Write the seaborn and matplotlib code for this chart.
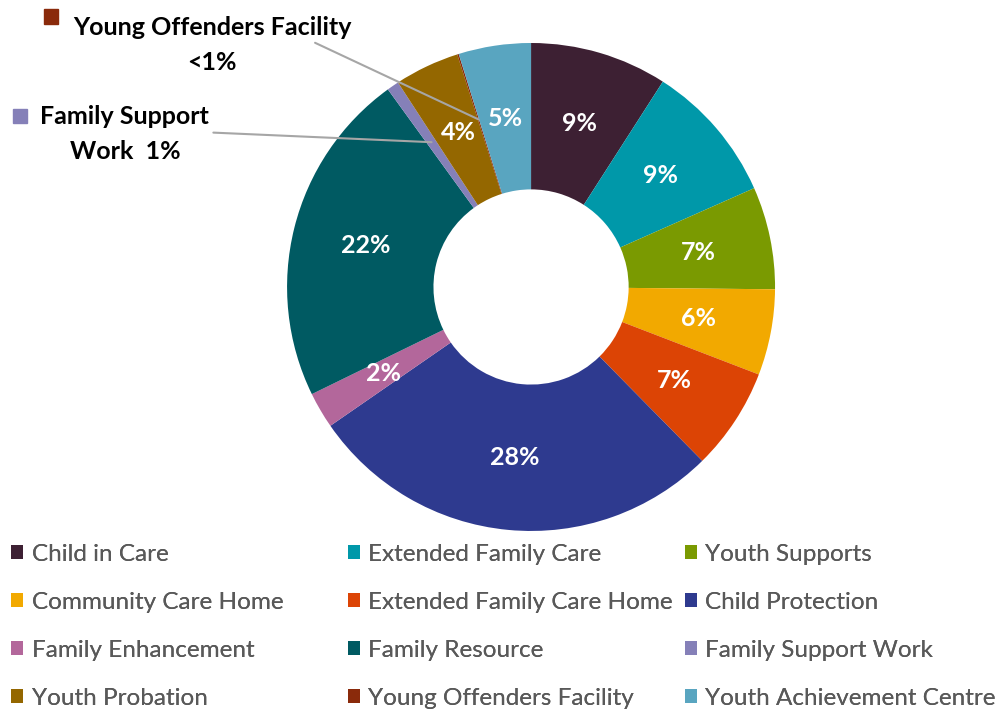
import numpy as np
import seaborn as sns
import matplotlib.pyplot as plt

categories = ['Child in Care', 'Extended Family Care', 'Youth Supports',
              'Community Care Home', 'Extended Family Care Home', 'Child Protection',
              'Family Enhancement', 'Family Resource', 'Family Support Work',
              'Youth Probation', 'Young Offenders Facility', 'Youth Achievement Centre']
shares = [9.1, 9.3, 6.8, 5.7, 6.8, 27.8, 2.4, 22.3, 0.8, 4.3, 0.1, 4.8]
pct_labels = ['9%', '9%', '7%', '6%', '7%', '28%', '2%', '22%', '', '4%', '', '5%']
hex_colors = ['#3D2033', '#0098A9', '#7A9A01', '#F2A900', '#DC4405', '#2E3A8F',
              '#B3679B', '#005A62', '#8580B8', '#946700', '#8A2A0B', '#59A5C0']

sns.set_theme(style='white')
plt.rcParams['font.family'] = ['Lato', 'DejaVu Sans']
palette = sns.color_palette(hex_colors)

fig = plt.figure(figsize=(9.97, 7.13), dpi=100)
ax = fig.add_axes([0.2879, 0.2553, 0.4895, 0.6844])

wedges, _ = ax.pie(shares, colors=palette, startangle=90, counterclock=False,
                   radius=1, wedgeprops=dict(width=0.6, linewidth=0))
ax.set_xlim(-1, 1)
ax.set_ylim(-1, 1)
ax.set_aspect('equal')
ax.axis('off')


def mid_point(w, r):
    ang = np.deg2rad((w.theta1 + w.theta2) / 2)
    return r * np.cos(ang), r * np.sin(ang)


# labels inside the ring
for w, lab in zip(wedges, pct_labels):
    if lab:
        x, y = mid_point(w, 0.7)
        ax.text(x, y, lab, ha='center', va='center', color='white',
                fontsize=18, fontweight='bold')

# callouts for the two thin slices
ax.annotate('', xy=mid_point(wedges[10], 0.72), xycoords='data',
            xytext=(0.316, 0.94), textcoords='figure fraction',
            arrowprops=dict(arrowstyle='-', color='#A6A6A6', lw=1.5,
                            shrinkA=0, shrinkB=0))
ax.annotate('', xy=mid_point(wedges[8], 0.72), xycoords='data',
            xytext=(0.214, 0.814), textcoords='figure fraction',
            arrowprops=dict(arrowstyle='-', color='#A6A6A6', lw=1.5,
                            shrinkA=0, shrinkB=0))

fig.text(0.213, 0.962, 'Young Offenders Facility', ha='center', va='center',
         fontsize=18, fontweight='bold', color='black')
fig.text(0.213, 0.913, '<1%', ha='center', va='center',
         fontsize=18, fontweight='bold', color='black')
fig.text(0.040, 0.836, 'Family Support', ha='left', va='center',
         fontsize=18, fontweight='bold', color='black')
fig.text(0.070, 0.787, 'Work  1%', ha='left', va='center',
         fontsize=18, fontweight='bold', color='black')
fig.patches.append(plt.Rectangle((0.044, 0.967), 0.014, 0.02, color=hex_colors[10],
                                 transform=fig.transFigure, figure=fig))
fig.patches.append(plt.Rectangle((0.013, 0.827), 0.014, 0.02, color=hex_colors[8],
                                 transform=fig.transFigure, figure=fig))

# legend: three columns, filled row by row
col_x = [0.006, 0.344, 0.682]
for c in range(3):
    leg = fig.legend(wedges[c::3], categories[c::3], loc='upper left',
                     bbox_to_anchor=(col_x[c], 0.244), frameon=False,
                     fontsize=17.5, labelcolor='#595959', handlelength=0.5,
                     handleheight=0.5, handletextpad=0.35, labelspacing=1.11,
                     borderaxespad=0, borderpad=0.2)
    fig.add_artist(leg)

fig.savefig('out.png', dpi=100)
